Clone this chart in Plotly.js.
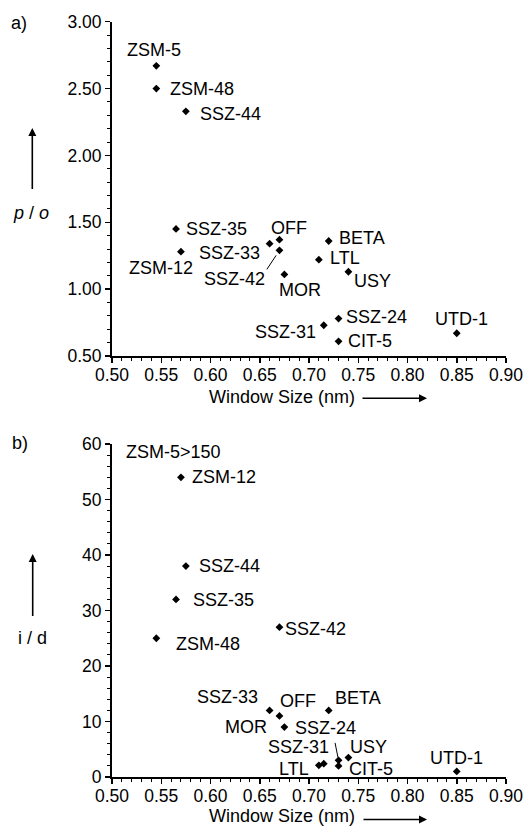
<!DOCTYPE html>
<html>
<head>
<meta charset="utf-8">
<script src="https://cdn.plot.ly/plotly-3.0.1.min.js"></script>
<style>html,body{margin:0;padding:0;background:#fff;}#chart{width:528px;height:828px;}</style>
</head>
<body>
<div id="chart"></div>
<script>
// ---- Data (a): p / o vs window size ----
const namesA  = ['ZSM-5','ZSM-48','SSZ-44','SSZ-35','ZSM-12','SSZ-33','OFF','SSZ-42','MOR','BETA','LTL','USY','SSZ-24','SSZ-31','CIT-5','UTD-1'];
const windowA = [0.545, 0.545, 0.575, 0.565, 0.570, 0.660, 0.670, 0.670, 0.675, 0.720, 0.710, 0.740, 0.730, 0.715, 0.730, 0.850];
const poRatio = [2.67, 2.50, 2.33, 1.45, 1.28, 1.34, 1.37, 1.29, 1.11, 1.36, 1.22, 1.13, 0.78, 0.73, 0.61, 0.67];

// ---- Data (b): i / d vs window size ----
const namesB  = ['ZSM-12','SSZ-44','SSZ-35','ZSM-48','SSZ-42','SSZ-33','OFF','BETA','MOR','SSZ-24','USY','LTL','SSZ-31','CIT-5','UTD-1'];
const windowB = [0.570, 0.575, 0.565, 0.545, 0.670, 0.660, 0.670, 0.720, 0.675, 0.730, 0.740, 0.710, 0.715, 0.730, 0.850];
const idRatio = [54, 38, 32, 25, 27, 12, 11, 12, 9, 3, 3.5, 2.1, 2.4, 2.0, 1.0];
const offScaleNote = 'ZSM-5>150';

// ---- Label placement (pixels; anchor side, dx, dy-down) ----
const labelPosA = {
  'ZSM-5':['center',-2,-16], 'ZSM-48':['left',13,0], 'SSZ-44':['left',13,3], 'SSZ-35':['left',9,0],
  'ZSM-12':['center',-20,16], 'SSZ-33':['right',-9,9], 'OFF':['center',10,-12], 'SSZ-42':['right',-13,29],
  'MOR':['center',16,16], 'BETA':['left',9,-3], 'LTL':['left',10,-2], 'USY':['left',5,9],
  'SSZ-24':['left',6,-2], 'SSZ-31':['right',-7,7], 'CIT-5':['left',8,0], 'UTD-1':['center',5,-14]
};
const labelPosB = {
  'ZSM-12':['left',10,0], 'SSZ-44':['left',12,0], 'SSZ-35':['left',16,1], 'ZSM-48':['left',19,6],
  'SSZ-42':['left',5,2], 'SSZ-33':['right',-11,-13], 'OFF':['left',0,-15], 'BETA':['left',5,-12],
  'MOR':['right',-16,0], 'SSZ-24':['left',-45,-32], 'USY':['left',1,-11], 'LTL':['right',-9,4],
  'SSZ-31':['right',6,-17], 'CIT-5':['left',9,3], 'UTD-1':['center',0,-13]
};
// leader lines: [name, tail dx, tail dy(down), gap near point]
const leadersA = [['SSZ-42', -12.6, 19, 6]];
const leadersB = [['SSZ-24', -3.5, -17.5, 3]];

const FONT = 'Liberation Sans, Arial, sans-serif';
const W = 528, H = 828;
const px = v => v / W;
const py = v => (H - v) / H;

const marker = {symbol:'diamond', size:6, color:'#000'};
const traces = [
  {x: windowA, y: poRatio, type:'scatter', mode:'markers', marker, xaxis:'x', yaxis:'y', hoverinfo:'skip'},
  {x: windowB, y: idRatio, type:'scatter', mode:'markers', marker, xaxis:'x2', yaxis:'y2', hoverinfo:'skip'}
];

const annotations = [];
const shapes = [];
function addLabels(names, xs, ys, pos, xr, yr) {
  names.forEach((n, i) => {
    const p = pos[n];
    annotations.push({text:n, x:xs[i], y:ys[i], xref:xr, yref:yr, showarrow:false,
      xanchor:p[0], yanchor:'middle', xshift:p[1], yshift:-p[2],
      font:{family:FONT, size:18, color:'#000'}, borderpad:0});
  });
}
function addLeaders(list, names, xs, ys, xr, yr) {
  list.forEach(l => {
    const i = names.indexOf(l[0]);
    const len = Math.hypot(l[1], l[2]);
    const gx = l[1] / len * l[3], gy = l[2] / len * l[3];
    shapes.push({type:'line', xref:xr, yref:yr, xsizemode:'pixel', ysizemode:'pixel',
      xanchor:xs[i], yanchor:ys[i], x0:gx, y0:-gy, x1:l[1], y1:-l[2],
      line:{color:'#000', width:1}});
  });
}
addLabels(namesA, windowA, poRatio, labelPosA, 'x', 'y');
addLabels(namesB, windowB, idRatio, labelPosB, 'x2', 'y2');
addLeaders(leadersA, namesA, windowA, poRatio, 'x', 'y');
addLeaders(leadersB, namesB, windowB, idRatio, 'x2', 'y2');

// off-scale note for ZSM-5 in (b)
annotations.push({text:offScaleNote, x:windowA[0], y:60, xref:'x2', yref:'y2', showarrow:false,
  xanchor:'left', yanchor:'middle', xshift:-31.7, yshift:-8, font:{family:FONT, size:18, color:'#000'}, borderpad:0});

// panel letters, axis titles and arrows
function paperText(t, x, y, anchor) {
  annotations.push({text:t, x:px(x), y:py(y), xref:'paper', yref:'paper', showarrow:false,
    xanchor:anchor, yanchor:'middle', font:{family:FONT, size:18, color:'#000'}, borderpad:0});
}
function paperArrow(hx, hy, ax, ay) {
  annotations.push({text:' ', x:px(hx), y:py(hy), xref:'paper', yref:'paper', showarrow:true,
    ax:ax, ay:ay, arrowhead:2, arrowsize:1, arrowwidth:1.6, arrowcolor:'#000', standoff:0,
    font:{size:1}, borderpad:0});
}
paperText('a)', 10, 23, 'left');
paperText('b)', 11, 443, 'left');
paperText('<i>p</i> / <i>o</i>', 30.5, 213, 'center');
paperText('i / d', 32.5, 638, 'center');
paperText('Window Size (nm)', 281.5, 397, 'center');
paperText('Window Size (nm)', 281.5, 816, 'center');
paperArrow(32.3, 128, 0, 62);
paperArrow(32.7, 554, 0, 63);
paperArrow(427, 398.3, -65, 0);
paperArrow(427, 819.5, -64, 0);

const xCommon = {
  range:[0.5, 0.9], dtick:0.05, tick0:0.5, tickformat:'.2f', ticklabelstandoff:-3,
  showline:true, linecolor:'#000', linewidth:2, ticks:'outside', ticklen:5, tickwidth:1.5, tickcolor:'#000',
  minor:{dtick:0.01, ticks:'outside', ticklen:3, tickwidth:1, tickcolor:'#000'},
  showgrid:false, zeroline:false, tickfont:{family:FONT, size:17.5, color:'#000'}, fixedrange:true,
  domain:[px(112), px(506)]
};
const yBase = {
  showline:true, linecolor:'#000', linewidth:2, ticks:'outside', ticklen:5, tickwidth:1.5, tickcolor:'#000',
  showgrid:false, zeroline:false, tickfont:{family:FONT, size:17.5, color:'#000'}, fixedrange:true
};
const layout = {
  width:W, height:H, margin:{l:0, r:0, t:0, b:0},
  paper_bgcolor:'#fff', plot_bgcolor:'#fff', showlegend:false,
  font:{family:FONT, color:'#000'},
  xaxis: Object.assign({}, xCommon, {anchor:'y'}),
  xaxis2: Object.assign({}, xCommon, {anchor:'y2'}),
  yaxis: Object.assign({}, yBase, {range:[0.5, 3.0], dtick:0.5, tick0:0.5, tickformat:'.2f', anchor:'x',
    minor:{dtick:0.1, ticks:'outside', ticklen:3, tickwidth:1, tickcolor:'#000'},
    domain:[py(356), py(21.7)]}),
  yaxis2: Object.assign({}, yBase, {range:[0, 60], dtick:10, tick0:0, anchor:'x2',
    minor:{dtick:2, ticks:'outside', ticklen:3, tickwidth:1, tickcolor:'#000'},
    domain:[py(777), py(444)]}),
  annotations, shapes
};
Plotly.newPlot('chart', traces, layout, {staticPlot:true, displayModeBar:false});
</script>
</body>
</html>
